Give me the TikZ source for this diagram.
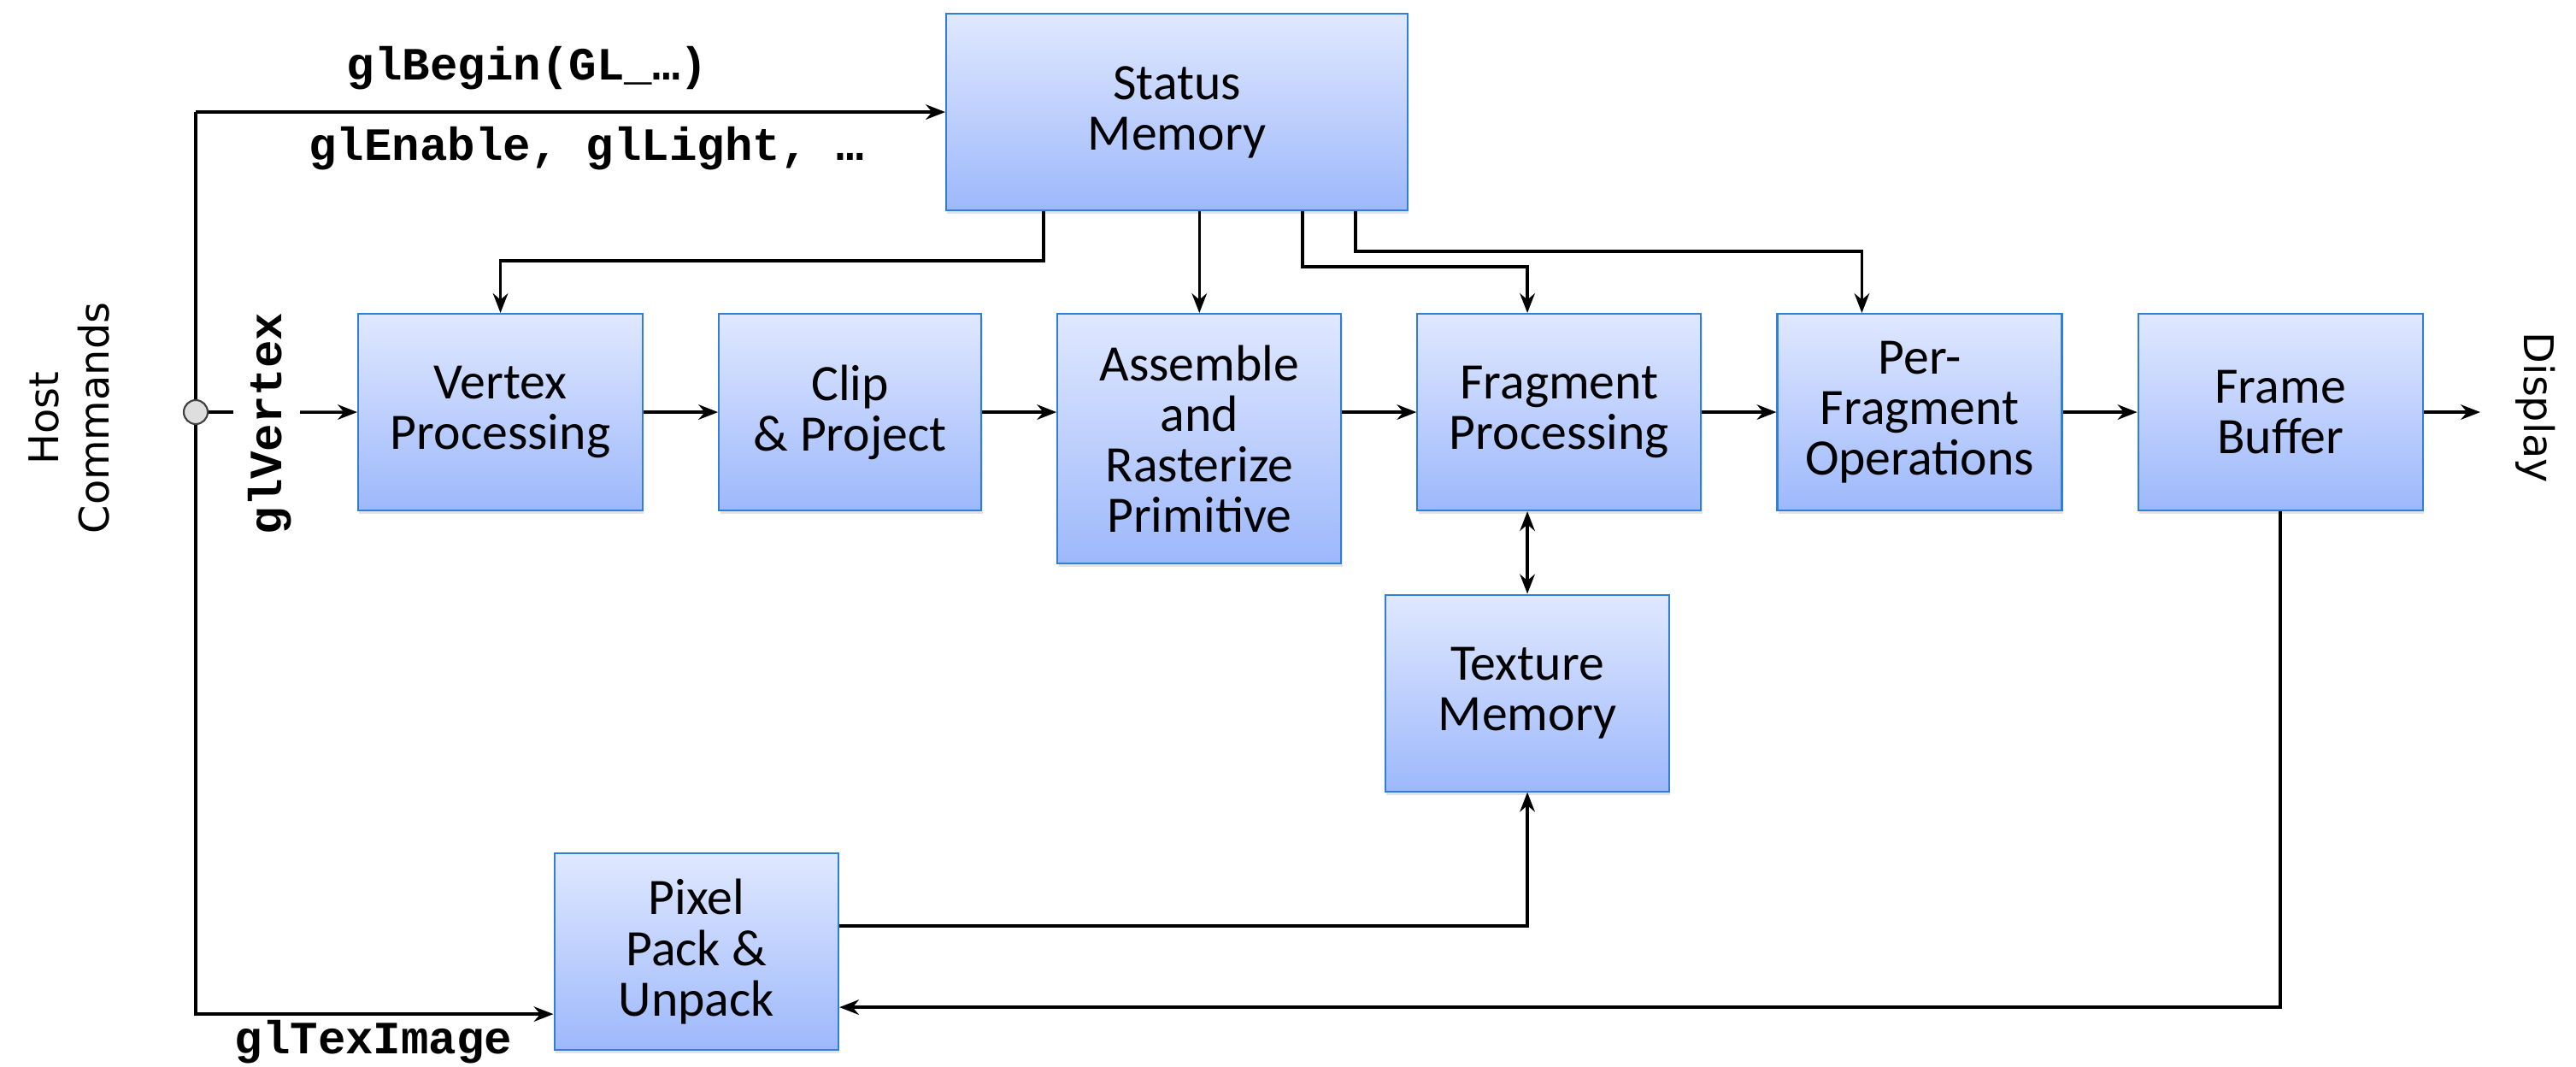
\documentclass[tikz,border=0pt]{standalone}
\usepackage{fontspec}
\setmainfont{Carlito}
\newfontfamily\codefont{Liberation Mono}
\newfontfamily\labelfont{DejaVu Sans}
\usetikzlibrary{arrows.meta, positioning, shadows}

\definecolor{boxtop}{HTML}{E0E8FF}
\definecolor{boxbot}{HTML}{9DB8FB}
\definecolor{boxline}{HTML}{2F7FD6}

\begin{document}
\begin{tikzpicture}[
        node distance=0.87cm,
        block/.style={rectangle, draw=boxline, line width=0.6pt, top color=boxtop, bottom color=boxbot,
            drop shadow={opacity=0.22, shadow xshift=0.4pt, shadow yshift=-1.2pt},
            align=center, inner sep=0pt, minimum height=2.3cm, minimum width=3.33cm,
            font=\fontsize{17}{16.8}\selectfont},
        code/.style={font=\codefont\bfseries\fontsize{15.4}{16}\selectfont, inner sep=0pt},
        side/.style={font=\labelfont\fontsize{13.6}{17}\selectfont, align=center, inner sep=0pt},
        line/.style={draw, -{Stealth[length=6.5pt,width=5pt]}, line width=1pt},
        dline/.style={draw, {Stealth[length=6.5pt,width=5pt]}-{Stealth[length=6.5pt,width=5pt]}, line width=1pt}
    ]
    \useasboundingbox (0,0) rectangle (30.14,-12.47);

    % nodes
    \node[block, anchor=north west] (vertex) at (4.18,-3.66) {Vertex\\Processing};
    \node[block, right=of vertex.north east, anchor=north west, minimum width=3.07cm] (clip) {Clip\\\& Project};
    \node[block, right=of clip.north east, anchor=north west, minimum width=3.32cm, minimum height=2.92cm] (assemble) {Assemble\\and\\Rasterize\\Primitive};
    \node[block, right=of assemble.north east, anchor=north west, minimum width=3.32cm] (fragment) {Fragment\\Processing};
    \node[block, right=of fragment.north east, anchor=north west] (perfrag) {Per-\\Fragment\\Operations};
    \node[block, right=of perfrag.north east, anchor=north west] (frame) {Frame\\Buffer};
    \node[block, anchor=north west, minimum width=5.4cm] (status) at (11.06,-0.15) {Status\\Memory};
    \node[block, anchor=north west, minimum width=3.32cm] (texture) at (16.2,-6.945) {Texture\\Memory};
    \node[block, anchor=north west, minimum width=3.325cm] (pixel) at (6.475,-9.97) {Pixel\\Pack \&\\Unpack};

    \node[circle, draw=black!75, fill=black!13, line width=0.6pt, minimum size=0.28cm, inner sep=0pt] (hub) at (2.29,-4.82) {};
    \coordinate (stub) at (2.73,-4.82);
    \coordinate (vin) at (3.51,-4.82);
    \coordinate (disp) at (29.02,-4.875);

    % labels
    \node[code] (begin) at (6.17,-0.8) {glBegin(GL\_…)};
    \node[code] (enable) at (6.86,-1.74) {glEnable, glLight, …};
    \node[code, rotate=90] (glvtx) at (3.16,-4.955) {glVertex};
    \node[code] (teximg) at (4.37,-12.19) {glTexImage};
    \node[side, rotate=90] (host) at (0.81,-4.89) {Host\\Commands};
    \node[side, rotate=-90] (display) at (29.67,-4.77) {Display};

    % lines
    \draw[line width=1pt] (hub.north) -- (hub.north |- status.west);
    \path[line] (hub.north |- status.west) -- (status.west);
    \path[line] (hub.south) |- ([yshift=0.43cm]pixel.south west);
    \draw[line width=1pt] (hub.east) -- (stub);
    \path[line] (vin) -- (vertex.west);

    \path[line] ([xshift=1.15cm]status.south west) -- ++(0,-0.58) -| (vertex.north);
    \path[line] (status.south -| assemble.north) -- (assemble.north);
    \path[line] ([xshift=4.18cm]status.south west) -- ++(0,-0.65) -| (texture.north |- fragment.north);
    \path[line] ([xshift=4.8cm]status.south west) -- ++(0,-0.47) -| ([xshift=1cm]perfrag.north west);

    \path[line] (vertex.east) -- (clip.west);
    \path[line] (clip.east) -- (clip.east -| assemble.west);
    \path[line] (assemble.east |- fragment.west) -- (fragment.west);
    \path[line] (fragment.east) -- (perfrag.west);
    \path[line] (perfrag.east) -- (frame.west);
    \path[line] (frame.east) -- (frame.east -| disp);

    \path[dline] (texture.north |- fragment.south) -- (texture.north);
    \path[line] ([yshift=0.3cm]pixel.east) -| (texture.south);
    \path[line] (frame.south) |- ([yshift=0.51cm]pixel.south east);

\end{tikzpicture}
\end{document}
